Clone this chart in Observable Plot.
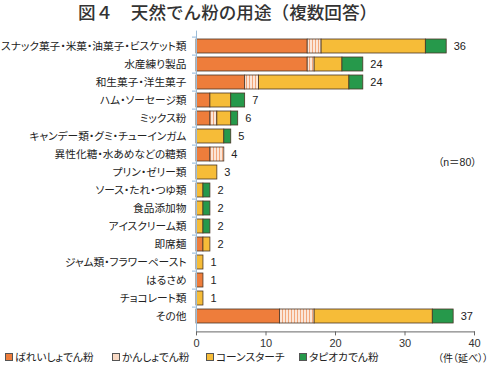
<!DOCTYPE html>
<html><head><meta charset="utf-8">
<script src="https://cdn.jsdelivr.net/npm/d3@7"></script>
<script src="https://cdn.jsdelivr.net/npm/@observablehq/plot@0.6"></script>
<style>
body{margin:0;background:#fff;font-family:"Liberation Sans","Noto Sans CJK JP",sans-serif;font-feature-settings:"palt";}
#wrap{position:relative;width:487px;height:365px;overflow:hidden;}
.abs{position:absolute;white-space:nowrap;color:#222;}
#title{left:78px;top:0px;font-size:17.6px;font-family:"Noto Sans CJK JP",sans-serif;font-weight:500;color:#333;line-height:24px;font-feature-settings:normal;}
#n{left:438px;top:154px;font-size:10.5px;}
#unit{left:438px;top:350px;font-size:10px;}
.leg{top:350px;font-size:10.7px;line-height:14px;display:flex;align-items:center;}
.sw{display:inline-block;width:6px;height:6px;border:1px solid #555;margin-right:2px;}
</style></head>
<body><div id="wrap">
<div id="title" class="abs">図４　天然でん粉の用途（複数回答）</div>
<div id="n" class="abs">（n＝80）</div>
<div id="unit" class="abs">（件（延べ））</div>
</div>
<script>
const categories = ["スナック菓子・米菓・油菓子・ビスケット類","水産練り製品","和生菓子・洋生菓子","ハム・ソーセージ類","ミックス粉","キャンデー類・グミ・チューインガム","異性化糖・水あめなどの糖類","プリン・ゼリー類","ソース・たれ・つゆ類","食品添加物","アイスクリーム類","即席麺","ジャム類・フラワーペースト","はるさめ","チョコレート類","その他"];
const seriesNames = ["ばれいしょでん粉","かんしょでん粉","コーンスターチ","タピオカでん粉"];
const potato  = [16,16, 7,2,2,0,2,0,0,0,0,1,0,1,0,12];
const sweet   = [ 2, 1, 2,0,1,0,2,0,0,0,0,0,0,0,0, 5];
const corn    = [15, 4,13,3,2,4,0,3,1,1,1,1,1,0,1,17];
const tapioca = [ 3, 3, 2,2,1,1,0,0,1,1,1,0,0,0,0, 3];
const xTicks = [0,10,20,30,40];

const series = [potato, sweet, corn, tapioca];
const rows = [];
categories.forEach((c,i)=>series.forEach((s,j)=>{ if(s[i]>0) rows.push({cat:c, type:seriesNames[j], value:s[i]}); }));
const totals = categories.map((c,i)=>({cat:c, total: series.reduce((a,s)=>a+s[i],0)}));

const colors = ["#EE7D3B","url(#hatch)","#F6BC38","#26994B"];
const legendColors = ["#EE7D3B","#F8D9C4","#F6BC38","#26994B"];

const chart = Plot.plot({
  width:487, height:365,
  marginLeft:196, marginRight:13, marginTop:30.6, marginBottom:33.6,
  style:{fontFamily:'"Liberation Sans","Noto Sans CJK JP",sans-serif', fontSize:"11px", color:"#222", background:"transparent"},
  x:{domain:[0,40], ticks:xTicks},
  y:{domain:categories, paddingInner:0.2, paddingOuter:0.1, label:null},
  color:{domain:seriesNames, range:colors},
  marks:[
    Plot.barX(rows, Plot.stackX({y:"cat", x:"value", fill:"type", stroke:"#4a3526", strokeWidth:0.8, order:seriesNames})),
    Plot.text(totals, {x:"total", y:"cat", text:d=>String(d.total), dx:7, textAnchor:"start", fontSize:11, fill:"#222"}),
    Plot.ruleX([0], {stroke:"#9bbcd8", strokeWidth:1}),
    Plot.axisY({tickSize:4, tickFormat:()=>"", dy:-9.4, stroke:"#8fb7dc", label:null}),
    Plot.axisY({tickSize:0, tickPadding:10, label:null, fontSize:10.7, fill:"#222"}),
    Plot.frame({anchor:"bottom", stroke:"#666"}),
    Plot.axisX({tickSize:4, tickPadding:3, label:null, fontSize:11, stroke:"#666", fill:"#333"})
  ]
});
const svg = chart;
const defs = d3.select(svg).insert("defs", ":first-child");
const pat = defs.append("pattern").attr("id","hatch").attr("patternUnits","userSpaceOnUse").attr("width",3).attr("height",6);
pat.append("rect").attr("width",3).attr("height",6).attr("fill","#FBE6D8");
pat.append("rect").attr("width",1).attr("height",6).attr("fill","#F2A77A");
svg.style.position="absolute"; svg.style.left="0"; svg.style.top="0";
const wrap = document.getElementById("wrap");
wrap.insertBefore(svg, wrap.firstChild);

const legX = [5,112,206,299];
seriesNames.forEach((s,i)=>{
  const d = document.createElement("div");
  d.className = "abs leg"; d.style.left = legX[i]+"px";
  const sw = document.createElement("span"); sw.className="sw"; sw.style.background = legendColors[i];
  d.appendChild(sw); d.appendChild(document.createTextNode(s));
  wrap.appendChild(d);
});
</script>
</body></html>
